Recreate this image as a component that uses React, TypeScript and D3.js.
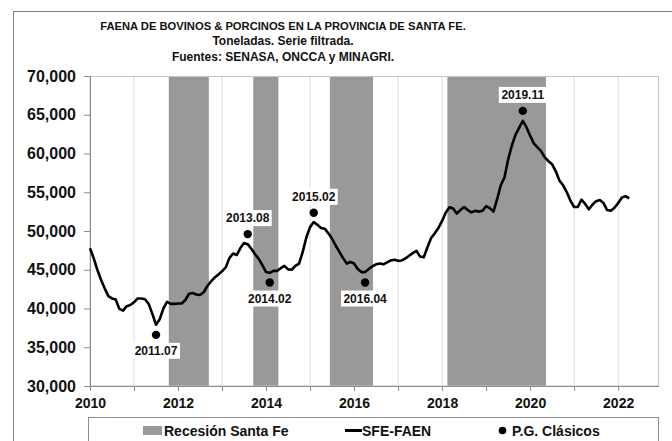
import React, { useEffect, useRef } from 'react';
import * as d3 from 'd3';

// serie mensual, desde enero 2010
const startYear = 2010;
const faena = [
  47770, 46500, 45000, 43700, 42600, 41600, 41300, 41150, 39950, 39720, 40300, 40450, // 2010
  40800, 41300, 41300, 41200, 40600, 39300, 37900, 38600, 40000, 40850, 40600, 40600, // 2011
  40650, 40650, 41100, 41900, 42000, 41800, 41750, 42100, 42900, 43500, 44000, 44400, // 2012
  44800, 45300, 46500, 47100, 46900, 47800, 48450, 48300, 47700, 47000, 46400, 45600, // 2013
  44700, 44600, 44850, 44850, 45200, 45500, 45050, 45000, 45500, 45800, 47300, 49200, // 2014
  50500, 51150, 50800, 50400, 50300, 49700, 49000, 48100, 47300, 46500, 45800, 46000, // 2015
  45800, 45100, 44700, 44700, 45100, 45450, 45700, 45800, 45700, 45950, 46200, 46300, // 2016
  46150, 46200, 46450, 46800, 47150, 47450, 46700, 46600, 47900, 49100, 49700, 50400, // 2017
  51300, 52400, 53050, 52900, 52250, 52700, 53100, 52700, 52400, 52600, 52500, 52600, // 2018
  53200, 52950, 52500, 54100, 55900, 56900, 59200, 61000, 62400, 63300, 64200, 63400, // 2019
  62300, 61300, 60800, 60300, 59500, 59000, 58600, 57700, 56500, 55900, 55000, 53900, // 2020
  53100, 53100, 54050, 53500, 52800, 53400, 53850, 54000, 53600, 52700, 52600, 53000, // 2021
  53600, 54300, 54500, 54200, // 2022
];

// recesiones (inicio, fin) en años decimales
const recesiones = [
  [2011.79, 2012.70],
  [2013.71, 2014.28],
  [2015.45, 2016.43],
  [2018.12, 2020.36],
];

// picos y valles clásicos
const picos = [
  { label: '2011.07', value: 36600, below: true },
  { label: '2013.08', value: 49600, below: false },
  { label: '2014.02', value: 43350, below: true },
  { label: '2015.02', value: 52350, below: false },
  { label: '2016.04', value: 43350, below: true },
  { label: '2019.11', value: 65500, below: false },
];

const yTicks = [30000, 35000, 40000, 45000, 50000, 55000, 60000, 65000, 70000];
const xTicks = [2010, 2012, 2014, 2016, 2018, 2020, 2022];
const titleLines = [
  'FAENA DE BOVINOS & PORCINOS EN LA PROVINCIA DE SANTA FE.',
  'Toneladas. Serie filtrada.',
  'Fuentes: SENASA, ONCCA y MINAGRI.',
];

const font = "'Liberation Sans', Arial, sans-serif";

const App = () => {
  const svgRef = useRef<SVGSVGElement>(null);

  useEffect(() => {
    const width = 672;
    const height = 441;
    const plot = { left: 90, right: 658.5, top: 76, bottom: 386 };

    const svg = d3.select(svgRef.current)
      .attr('width', width)
      .attr('height', height);
    svg.selectAll('*').remove();

    const x = d3.scaleLinear()
      .domain([2010, 2022 + 11 / 12])
      .range([plot.left, plot.right]);
    const y = d3.scaleLinear()
      .domain([30000, 70000])
      .range([plot.bottom, plot.top]);

    // marco exterior
    svg.append('rect')
      .attr('x', 13.5).attr('y', 11.5)
      .attr('width', 700).attr('height', 500)
      .attr('fill', '#fff').attr('stroke', '#7f7f7f');

    // titulo
    svg.append('g')
      .selectAll('text')
      .data(titleLines)
      .enter()
      .append('text')
      .attr('x', 283)
      .attr('y', (d, i) => 29.5 + i * 15.5)
      .attr('text-anchor', 'middle')
      .attr('font-family', font)
      .attr('font-weight', 'bold')
      .attr('font-size', (d, i) => (i === 0 ? 11.2 : 12))
      .attr('fill', '#111')
      .text(d => d);

    // fondo del area de grafico
    svg.append('rect')
      .attr('x', plot.left).attr('y', plot.top)
      .attr('width', plot.right - plot.left).attr('height', plot.bottom - plot.top)
      .attr('fill', '#fff');

    // grilla vertical anual
    svg.append('g')
      .selectAll('line')
      .data(d3.range(2011, 2023))
      .enter()
      .append('line')
      .attr('x1', d => x(d)).attr('x2', d => x(d))
      .attr('y1', plot.top).attr('y2', plot.bottom)
      .attr('stroke', '#dcdcdc').attr('stroke-width', 1);

    // bandas de recesion
    svg.append('g')
      .selectAll('rect')
      .data(recesiones)
      .enter()
      .append('rect')
      .attr('x', d => x(d[0]))
      .attr('width', d => x(d[1]) - x(d[0]))
      .attr('y', plot.top)
      .attr('height', plot.bottom - plot.top)
      .attr('fill', '#999999');

    // borde del area
    svg.append('rect')
      .attr('x', plot.left).attr('y', plot.top + 0.5)
      .attr('width', plot.right - plot.left).attr('height', plot.bottom - plot.top - 0.5)
      .attr('fill', 'none').attr('stroke', '#c4c4c4');

    // eje Y
    const yAxis = d3.axisLeft(y)
      .tickValues(yTicks)
      .tickSize(6)
      .tickPadding(8)
      .tickFormat(d3.format(','));
    const gy = svg.append('g')
      .attr('transform', `translate(${plot.left},0)`)
      .call(yAxis);
    gy.selectAll('path, line').attr('stroke', '#8c8c8c');
    gy.selectAll('text')
      .attr('font-family', font)
      .attr('font-weight', 'bold')
      .attr('font-size', 16)
      .attr('fill', '#111');

    // eje X
    const xAxis = d3.axisBottom(x)
      .tickValues(d3.range(2010, 2023))
      .tickSize(5)
      .tickSizeOuter(0)
      .tickPadding(7)
      .tickFormat(d => (xTicks.includes(+d) ? String(d) : ''));
    const gx = svg.append('g')
      .attr('transform', `translate(0,${plot.bottom})`)
      .call(xAxis);
    gx.selectAll('path, line').attr('stroke', '#8c8c8c');
    gx.selectAll('text')
      .attr('font-family', font)
      .attr('font-weight', 'bold')
      .attr('font-size', 14)
      .attr('fill', '#111');

    // serie SFE-FAEN
    const line = d3.line<number>()
      .x((d, i) => x(startYear + i / 12))
      .y(d => y(d));
    svg.append('path')
      .datum(faena)
      .attr('d', line)
      .attr('fill', 'none')
      .attr('stroke', '#000')
      .attr('stroke-width', 2.6)
      .attr('stroke-linejoin', 'round');

    // picos y valles
    const t = (label: string) => {
      const [yy, mm] = label.split('.').map(Number);
      return yy + (mm - 1) / 12;
    };
    const gp = svg.append('g');
    picos.forEach(p => {
      const cx = x(t(p.label));
      const cy = y(p.value);
      gp.append('circle')
        .attr('cx', cx).attr('cy', cy).attr('r', 4.2)
        .attr('fill', '#000');
      const ly = cy + (p.below ? 16 : -16);
      gp.append('rect')
        .attr('x', cx - 24).attr('y', ly - 8)
        .attr('width', 48).attr('height', 16)
        .attr('fill', '#fff');
      gp.append('text')
        .attr('x', cx).attr('y', ly + 4.3)
        .attr('text-anchor', 'middle')
        .attr('font-family', font)
        .attr('font-weight', 'bold')
        .attr('font-size', 12)
        .attr('fill', '#111')
        .text(p.label);
    });

    // leyenda
    const lg = svg.append('g');
    lg.append('rect')
      .attr('x', 88.5).attr('y', 417.5)
      .attr('width', 570).attr('height', 40)
      .attr('fill', '#fff').attr('stroke', '#8c8c8c');
    lg.append('rect')
      .attr('x', 143).attr('y', 426)
      .attr('width', 19).attr('height', 9)
      .attr('fill', '#999999');
    lg.append('text')
      .attr('x', 164).attr('y', 435.5)
      .attr('font-family', font).attr('font-weight', 'bold').attr('font-size', 14)
      .attr('fill', '#111')
      .text('Recesión Santa Fe');
    lg.append('line')
      .attr('x1', 345).attr('x2', 362)
      .attr('y1', 430.5).attr('y2', 430.5)
      .attr('stroke', '#000').attr('stroke-width', 3);
    lg.append('text')
      .attr('x', 362).attr('y', 435.5)
      .attr('font-family', font).attr('font-weight', 'bold').attr('font-size', 14)
      .attr('fill', '#111')
      .text('SFE-FAEN');
    lg.append('circle')
      .attr('cx', 502.5).attr('cy', 430.5).attr('r', 3.8)
      .attr('fill', '#000');
    lg.append('text')
      .attr('x', 512).attr('y', 435.5)
      .attr('font-family', font).attr('font-weight', 'bold').attr('font-size', 14)
      .attr('fill', '#111')
      .text('P.G. Clásicos');
  }, []);

  return (
    <svg ref={svgRef} style={{ position: 'absolute', left: 0, top: 0, background: '#fff' }}></svg>
  );
};

export default App;
